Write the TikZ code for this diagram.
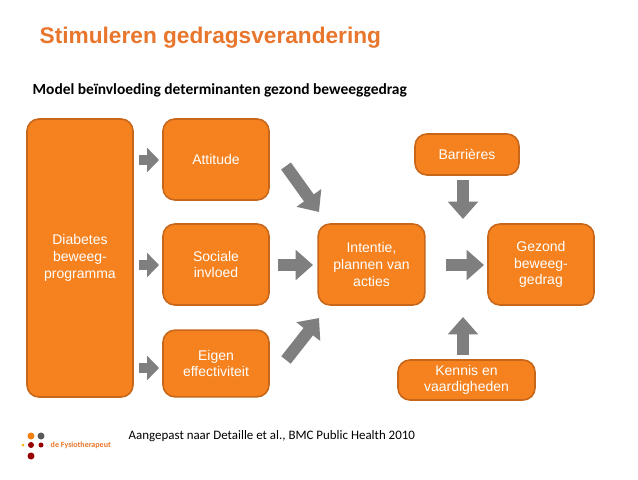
\documentclass[tikz,border=0pt]{standalone}
\usepackage{fontspec}
\setmainfont{Liberation Sans}
\newfontfamily\carlfont{Carlito}
\usetikzlibrary{arrows.meta}
\definecolor{org}{HTML}{F5821F}
\definecolor{orgd}{HTML}{C8671A}
\definecolor{ttl}{HTML}{E8762C}
\definecolor{ar}{HTML}{7F7F7F}
\tikzset{box/.style={draw=orgd,line width=1.2pt,fill=org,rounded corners=9pt,text=white,font=\fontsize{10.5pt}{12.5pt}\selectfont,align=center,inner sep=0pt},
bar/.style={ar,line width=9pt,-{Triangle[length=13pt,width=22pt]}}}
\begin{document}
\begin{tikzpicture}[x=0.75pt,y=-0.75pt]
\useasboundingbox (0,0) rectangle (638,479);
\fill[white] (0,0) rectangle (638,479);
\node[anchor=west,text=ttl,font=\bfseries\fontsize{17pt}{20pt}\selectfont] (t) at (35,38) {Stimuleren gedragsverandering};
\node[anchor=west,font=\carlfont\bfseries\fontsize{11.6pt}{13pt}\selectfont] (s) at (28,90) {Model beïnvloeding determinanten gezond beweeggedrag};
\node[box,minimum width=79.5pt,minimum height=208.5pt] (d) at (80,258) {Diabetes\\beweeg-\\programma};
\node[box,minimum width=79.5pt,minimum height=60.75pt] (a) at (216,159.5) {Attitude};
\node[box,minimum width=79.5pt,minimum height=60.75pt] (so) at (216,264.5) {Sociale\\invloed};
\node[box,minimum width=79.5pt,minimum height=50pt] (e) at (216,363.5) {Eigen\\effectiviteit};
\node[box,minimum width=80pt,minimum height=60.75pt] (i) at (371.5,264.5) {Intentie,\\plannen van\\acties};
\node[box,minimum width=79.5pt,minimum height=60.75pt] (g) at (541,264.5) {Gezond\\beweeg-\\gedrag};
\node[box,minimum width=78pt,minimum height=30.75pt] (b) at (467,154.5) {Barrières};
\node[box,minimum width=102.75pt,minimum height=30pt] (k) at (466.5,380) {Kennis en\\vaardigheden};
\foreach \y/\n in {160/1,265/2,368/3}{
 \coordinate (p\n) at (139,\y); \coordinate (q\n) at (159,\y);
 \draw[ar,line width=8pt,-{Triangle[length=9pt,width=18pt]}] (p\n) -- (q\n);}
\coordinate (c1) at (286,166); \coordinate (c2) at (319,212);
\coordinate (c3) at (278,265); \coordinate (c4) at (313,265);
\coordinate (c5) at (286,360); \coordinate (c6) at (319,318);
\coordinate (c7) at (446,265); \coordinate (c8) at (484,265);
\coordinate (c9) at (463,180); \coordinate (c10) at (463,219);
\coordinate (c11) at (463,355); \coordinate (c12) at (463,317);
\draw[bar] (c1) -- (c2);
\draw[bar] (c3) -- (c4);
\draw[bar] (c5) -- (c6);
\draw[bar] (c7) -- (c8);
\draw[bar] (c9) -- (c10);
\draw[bar] (c11) -- (c12);
\node[anchor=west,font=\carlfont\fontsize{9.7pt}{11pt}\selectfont] (src) at (124,436) {Aangepast naar Detaille et al., BMC Public Health 2010};
\fill[orange!80!brown] (31,436) circle (3.5);
\fill[gray!70!black] (41,436) circle (3.5);
\fill[orange!60!yellow] (23,445) circle (1.5);
\fill[red!60!black] (31,445) circle (3);
\fill[red!60!black] (41,445) circle (2.5);
\fill[red!60!black] (31,456) circle (3.5);
\node[anchor=west,text=ttl,font=\carlfont\bfseries\fontsize{6pt}{7pt}\selectfont] (logo) at (46,445) {de Fysiotherapeut};
\end{tikzpicture}
\end{document}
